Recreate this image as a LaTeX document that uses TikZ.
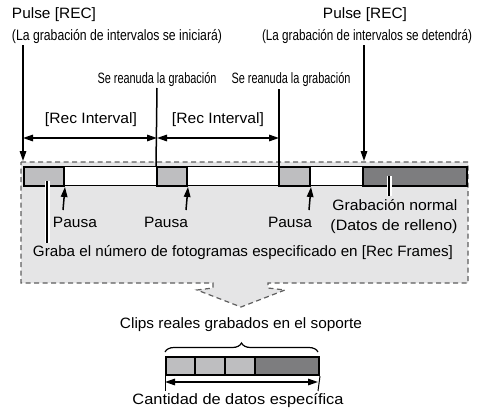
\documentclass[tikz,border=0pt]{standalone}
\usepackage{fontspec}
\usepackage{graphicx}
\setmainfont{Liberation Sans}
\usetikzlibrary{arrows.meta,decorations.pathreplacing}
\definecolor{regiongray}{RGB}{229,229,230}
\definecolor{boxlight}{RGB}{190,190,192}
\definecolor{boxdark}{RGB}{125,125,127}
\definecolor{dashgray}{RGB}{95,95,95}
\newcommand{\fitw}[2]{\resizebox{#1pt}{\height}{#2}}
\begin{document}
\begin{tikzpicture}[x=1pt,y=-1pt,
  lbl/.style={font=\fontsize{15}{17}\selectfont, inner sep=0pt},
  conn/.style={line width=1.5pt, draw=black},
  arr/.style={conn, -{Triangle[length=10pt,width=6.5pt]}},
  darr/.style={conn, {Triangle[length=10pt,width=6.5pt]}-{Triangle[length=10pt,width=6.5pt]}},
  seg/.style={draw=black, line width=2pt, inner sep=0pt, anchor=north west, minimum height=19pt},
  casing/.style={draw=white, line width=5pt},
  core/.style={draw=black, line width=1.3pt}
]
\useasboundingbox (0,0) rectangle (480,410);

% dashed region with arrow
\draw[fill=regiongray, draw=dashgray, line width=1.2pt, dash pattern=on 5pt off 3.5pt]
  (21,162) -- (468,162) -- (468,283) -- (268,283) -- (268,288) -- (285,290)
  -- (241,307) -- (197,290) -- (213,288) -- (213,283) -- (21,283) -- cycle;

% strip
\node[draw=black, line width=1pt, fill=white, inner sep=0pt, anchor=north west,
      minimum width=443pt, minimum height=19pt] (strip) at (23,166) {};
\node[seg, fill=boxlight, minimum width=40pt] (b1) at (23,166) {};
\node[seg, fill=boxlight, minimum width=30pt] (b2) at (156,166) {};
\node[seg, fill=boxlight, minimum width=31pt] (b3) at (278,166) {};
\node[seg, fill=boxdark, minimum width=104pt] (b4) at (362,166) {};

% top texts
\node[lbl] (pulseL) at (54,15) {\fitw{84}{Pulse [REC]}};
\node[lbl] (condL) at (117,37) {\fitw{210}{(La grabación de intervalos se iniciará)}};
\node[lbl] (pulseR) at (365,15) {\fitw{84}{Pulse [REC]}};
\node[lbl] (condR) at (367,37) {\fitw{210}{(La grabación de intervalos se detendrá)}};
\node[lbl] (sr1) at (157,80) {\fitw{119}{Se reanuda la grabación}};
\node[lbl] (sr2) at (291,80) {\fitw{119}{Se reanuda la grabación}};
\node[lbl] (ri1) at (91,120) {\fitw{92}{[Rec Interval]}};
\node[lbl] (ri2) at (218,120) {\fitw{92}{[Rec Interval]}};

% vertical lines
\coordinate (v1t) at (23,45);
\coordinate (v1b) at (23,161);
\coordinate (v2t) at (157,88);
\coordinate (v3t) at (279,89);
\coordinate (v3b) at (279,166);
\coordinate (v4t) at (364,45);
\coordinate (v4b) at (364,161);
\draw[arr] (v1t) -- (v1b);
\draw[conn] (v2t) -- (b2.north west);
\draw[conn] (v3t) -- (v3b);
\draw[arr] (v4t) -- (v4b);

% interval arrows
\coordinate (h1) at (23,138);
\coordinate (h2) at (157,138);
\coordinate (h3) at (279,138);
\draw[darr] (h1) -- (h2);
\draw[darr] (h2) -- (h3);

% pauses
\coordinate (p1) at (63,210);
\coordinate (p2) at (186,210);
\coordinate (p3) at (309,210);
\draw[arr] (p1) -- (b1.south east);
\draw[arr] (p2) -- (b2.south east);
\draw[arr] (p3) -- (b3.south east);
\node[lbl] (pausa1) at (75,222) {\fitw{44}{Pausa}};
\node[lbl] (pausa2) at (166,222) {\fitw{44}{Pausa}};
\node[lbl] (pausa3) at (290,222) {\fitw{44}{Pausa}};

% normal recording label
\node[lbl] (gn) at (395,205) {\fitw{125}{Grabación normal}};
\node[lbl] (dr) at (394,227) {\fitw{127}{(Datos de relleno)}};
\coordinate (gnt) at (389,176);
\coordinate (gnb) at (389,196);
\draw[casing] (gnt) -- (gnb);
\draw[core] (gnt) -- (gnb);

% frames label
\node[lbl] (graba) at (243,253) {\fitw{420}{Graba el número de fotogramas especificado en [Rec Frames]}};
\coordinate (gt) at (47,181);
\coordinate (gb) at (47,243);
\draw[casing] (gt) -- (gb);
\draw[core] (gt) -- (gb);

% bottom part
\node[lbl] (clips) at (241,325) {\fitw{242}{Clips reales grabados en el soporte}};
\coordinate (brl) at (165,352);
\coordinate (brr) at (318,352);
\draw[line width=1.2pt, decorate, decoration={brace, amplitude=9pt}] (brl) -- (brr);

\node[seg, fill=boxlight, minimum width=29pt, minimum height=18pt] (c1) at (165,356) {};
\node[seg, fill=boxlight, minimum width=30pt, minimum height=18pt] (c2) at (194,356) {};
\node[seg, fill=boxlight, minimum width=30pt, minimum height=18pt] (c3) at (224,356) {};
\node[seg, fill=boxdark, minimum width=64pt, minimum height=18pt] (c4) at (254,356) {};

\coordinate (tl) at (165,391);
\coordinate (tr) at (318,391);
\draw[line width=1pt] (c1.south west) -- (tl);
\draw[line width=1pt] (c4.south east) -- (tr);
\coordinate (al) at (165,382);
\coordinate (ar) at (318,382);
\draw[darr] (al) -- (ar);
\node[lbl] (cant) at (238,401) {\fitw{211}{Cantidad de datos específica}};
\end{tikzpicture}
\end{document}
